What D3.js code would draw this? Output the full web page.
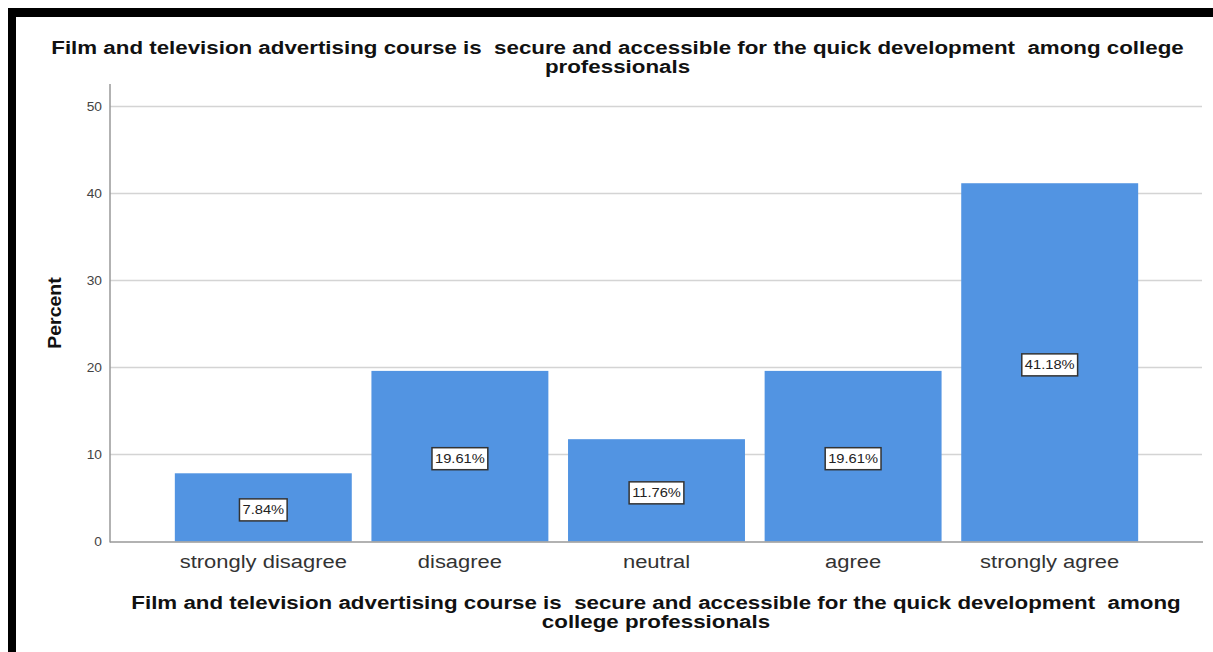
<!DOCTYPE html>
<html><head><meta charset="utf-8">
<script src="https://cdn.jsdelivr.net/npm/d3@7"></script>
<style>
html,body{margin:0;padding:0;background:#fff;}
svg text{font-family:"Liberation Sans",Arial,sans-serif;white-space:pre;}
</style></head>
<body>
<svg id="chart" width="1213" height="652"></svg>
<script>
const categories = ["strongly disagree","disagree","neutral","agree","strongly agree"];
const percents = [7.84, 19.61, 11.76, 19.61, 41.18];
const valueLabels = ["7.84%","19.61%","11.76%","19.61%","41.18%"];
const yTicks = [0,10,20,30,40,50];
const titleLines = ["Film and television advertising course is  secure and accessible for the quick development  among college","professionals"];
const xTitleLines = ["Film and television advertising course is  secure and accessible for the quick development  among","college professionals"];
const yTitle = "Percent";

// widen text horizontally (reference glyphs are wider than Liberation Sans)
function stretch(sel, k){
  sel.each(function(){
    const w = this.getComputedTextLength();
    d3.select(this).attr("textLength", w*k).attr("lengthAdjust","spacingAndGlyphs");
  });
}

const svg = d3.select("#chart");
svg.append("rect").attr("x",0).attr("y",0).attr("width",1213).attr("height",652).attr("fill","#fff");
// frame
svg.append("rect").attr("x",8).attr("y",8).attr("width",1205).attr("height",9).attr("fill","#000");
svg.append("rect").attr("x",8).attr("y",8).attr("width",8).attr("height",644).attr("fill","#000");

const x0 = 110, x1 = 1202;
const y = d3.scaleLinear().domain([0,50]).range([541.5,106.5]);
const x = d3.scaleBand().domain(categories).range([165,1148]).paddingInner(0.1).paddingOuter(0.05);

// gridlines
svg.append("g").selectAll("line").data(yTicks.filter(d=>d>0)).join("line")
  .attr("x1",x0).attr("x2",x1).attr("y1",d=>y(d)).attr("y2",d=>y(d))
  .attr("stroke","#d4d4d4").attr("stroke-width",1.5);

// bars
svg.append("g").selectAll("rect").data(percents).join("rect")
  .attr("x",(d,i)=>x(categories[i])).attr("width",x.bandwidth())
  .attr("y",d=>y(d)).attr("height",d=>y(0)-y(d))
  .attr("fill","#5294e2");

// axes lines
svg.append("line").attr("x1",x0).attr("x2",x0).attr("y1",84).attr("y2",542.5).attr("stroke","#999").attr("stroke-width",1.5);
svg.append("line").attr("x1",x0).attr("x2",x1+1).attr("y1",542).attr("y2",542).attr("stroke","#999").attr("stroke-width",1.5);

// y tick labels via axis
const yAxis = d3.axisLeft(y).tickValues(yTicks).tickSize(0).tickPadding(8);
const gy = svg.append("g").attr("transform",`translate(${x0},0)`).call(yAxis);
gy.select(".domain").remove();
gy.selectAll("text").attr("font-size",12.5).attr("fill","#444").attr("font-family","Liberation Sans, Arial, sans-serif");
stretch(gy.selectAll("text"),1.1);

// x tick labels via axis
const xAxis = d3.axisBottom(x).tickSize(0).tickPadding(0);
const gx = svg.append("g").attr("transform",`translate(0,542)`).call(xAxis);
gx.select(".domain").remove();
gx.selectAll("text").attr("font-size",18).attr("fill","#333").attr("dy",0).attr("y",26).attr("font-family","Liberation Sans, Arial, sans-serif");
stretch(gx.selectAll("text"),1.22);

// value labels
const lg = svg.append("g");
percents.forEach((d,i)=>{
  const cx = x(categories[i]) + x.bandwidth()/2;
  const cy = y(d/2) + 2.5;
  const g = lg.append("g").attr("transform",`translate(${cx},${cy})`);
  const t = g.append("text").attr("text-anchor","middle").attr("dy","0.35em")
    .attr("font-size",13).attr("fill","#222").text(valueLabels[i]);
  stretch(t,1.13);
  const w = +t.attr("textLength");
  g.insert("rect","text").attr("x",-w/2-3).attr("y",-11).attr("width",w+6).attr("height",22)
    .attr("fill","#fff").attr("stroke","#333").attr("stroke-width",1.5);
});

// title
const tt = svg.append("g").selectAll("text").data(titleLines).join("text")
  .attr("x",617.5).attr("y",(d,i)=>54+i*19).attr("text-anchor","middle")
  .attr("font-size",18).attr("font-weight","bold").attr("fill","#111").text(d=>d);
stretch(tt,1.24);

// x title
const xt = svg.append("g").selectAll("text").data(xTitleLines).join("text")
  .attr("x",656).attr("y",(d,i)=>609+i*19).attr("text-anchor","middle")
  .attr("font-size",18).attr("font-weight","bold").attr("fill","#111").text(d=>d);
stretch(xt,1.24);

// y title
const yt = svg.append("text").attr("transform","translate(61,313) rotate(-90)").attr("text-anchor","middle")
  .attr("font-size",18).attr("font-weight","bold").attr("fill","#111").text(yTitle);
stretch(yt,1.08);
</script>
</body></html>
